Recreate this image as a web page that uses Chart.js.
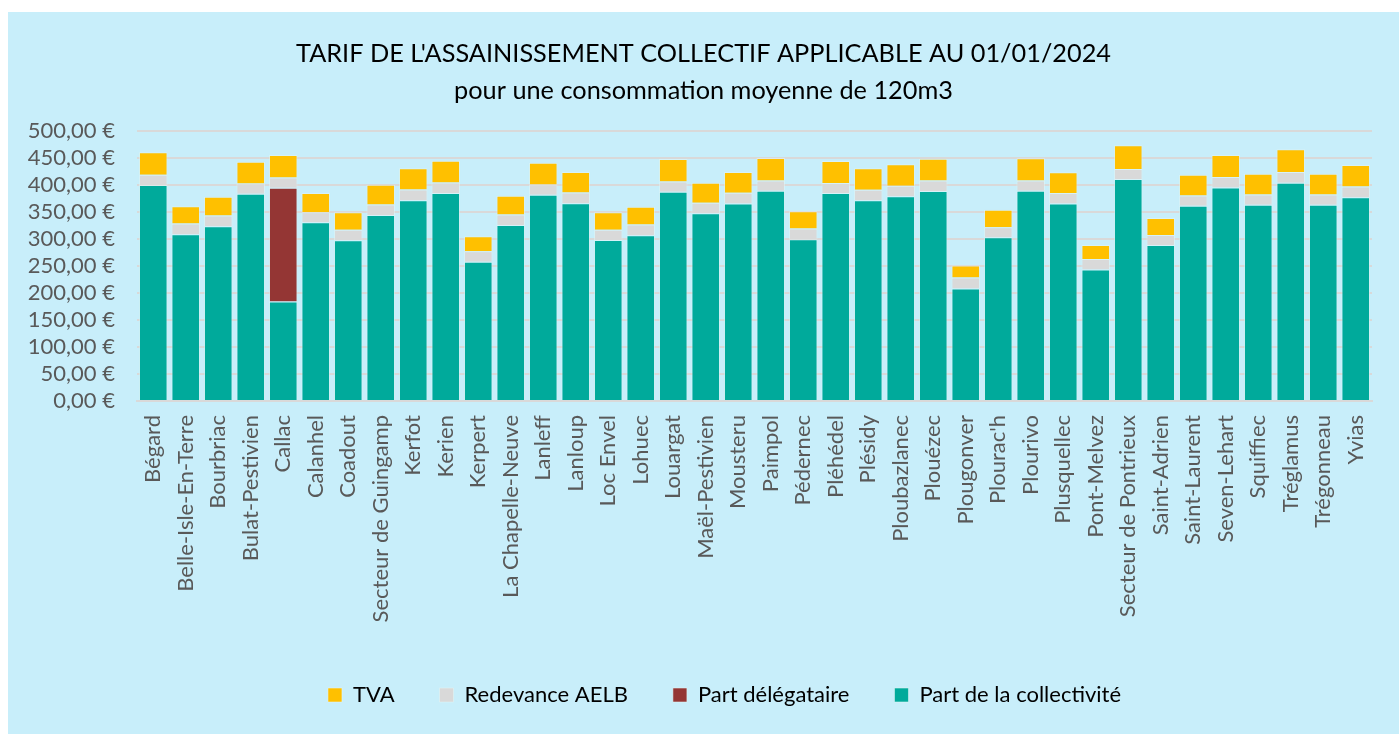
<!DOCTYPE html>
<html lang="fr">
<head>
<meta charset="utf-8">
<script src="https://cdn.jsdelivr.net/npm/chart.js@4"></script>
<style>
  body { margin: 0; background: #fff; }
  #wrap { position: absolute; left: 8px; top: 12px; width: 1391px; height: 722px; background: #c8eefa; }
</style>
</head>
<body>
<div id="wrap"><canvas id="chart"></canvas></div>
<script>
const communes = ["Bégard", "Belle-Isle-En-Terre", "Bourbriac", "Bulat-Pestivien", "Callac", "Calanhel", "Coadout",
  "Secteur de Guingamp", "Kerfot", "Kerien", "Kerpert", "La Chapelle-Neuve", "Lanleff", "Lanloup", "Loc Envel",
  "Lohuec", "Louargat", "Maël-Pestivien", "Mousteru", "Paimpol", "Pédernec", "Pléhédel", "Plésidy", "Ploubazlanec",
  "Plouézec", "Plougonver", "Plourac'h", "Plourivo", "Plusquellec", "Pont-Melvez", "Secteur de Pontrieux",
  "Saint-Adrien", "Saint-Laurent", "Seven-Lehart", "Squiffiec", "Tréglamus", "Trégonneau", "Yvias"];

const partCollectivite = [399.6, 308.5, 323.4, 383.5, 184.0, 330.9, 297.4, 344.5, 371.7, 384.8, 257.7, 325.9, 381.7,
  366.2, 298.0, 306.7, 387.2, 347.6, 365.6, 389.1, 299.3, 384.8, 371.7, 379.2, 388.5, 208.2, 303.0, 389.1, 365.6,
  243.5, 410.8, 288.7, 361.2, 395.3, 363.1, 404.0, 363.1, 377.3];

const partDelegataire = [null, null, null, null, 210.7, null, null, null, null, null, null, null, null,
  null, null, null, null, null, null, null, null, null, null, null, null, null, null, null, null,
  null, null, null, null, null, null, null, null, null];

const redevanceAELB = [19.2, 19.9, 19.8, 19.2, 19.2, 18.5, 19.8, 19.2, 19.9, 19.8, 19.3, 19.2, 19.2,
  19.8, 19.2, 19.8, 19.2, 19.2, 19.8, 19.2, 19.8, 18.5, 19.3, 19.2, 19.8, 20.4, 18.6, 19.2, 19.2,
  19.2, 18.6, 18.6, 19.2, 19.2, 19.2, 19.8, 19.2, 19.8];

const tva = [41.5, 32.2, 34.7, 40.3, 41.5, 35.4, 32.2, 36.5, 39.0, 40.3, 27.8, 34.7, 40.2,
  37.8, 32.2, 32.9, 41.6, 37.2, 38.4, 41.5, 32.2, 40.9, 39.6, 39.6, 40.3, 22.3, 32.2, 40.9, 38.4,
  26.0, 44.0, 31.6, 38.4, 40.9, 38.4, 42.1, 38.4, 39.7];

const yTicks = [0, 50, 100, 150, 200, 250, 300, 350, 400, 450, 500];

const font = "Lato, 'Open Sans', sans-serif";
const ctx = document.getElementById("chart");

function euro(v) {
  return v.toFixed(2).replace(".", ",") + " €";
}

function serie(label, data, color) {
  return {
    label: label,
    data: data,
    backgroundColor: color,
    borderColor: "rgba(225,245,245,0.55)",
    borderWidth: 1,
    barPercentage: 0.88,
    categoryPercentage: 1,
  };
}

// la légende est un peu décalée vers la droite
const decalageLegende = {
  id: "decalageLegende",
  afterLayout(chart) {
    chart.legend.left += 21;
    chart.legend.right += 21;
  },
};

new Chart(ctx, {
  type: "bar",
  data: {
    labels: communes,
    datasets: [
      serie("Part de la collectivité", partCollectivite, "#00aa9b"),
      serie("Part délégataire", partDelegataire, "#943634"),
      serie("Redevance AELB", redevanceAELB, "#d9d9d9"),
      serie("TVA", tva, "#ffc000"),
    ],
  },
  plugins: [decalageLegende],
  options: {
    responsive: true,
    maintainAspectRatio: false,
    animation: false,
    layout: { padding: { left: 0, right: 0, top: 0, bottom: 18 } },
    scales: {
      x: {
        stacked: true,
        afterFit: (scale) => { scale.height = 238; },
        grid: { display: false, drawTicks: false },
        border: { color: "#d9d9d9", width: 2 },
        ticks: {
          color: "#595959",
          font: { family: font, size: 22 },
          minRotation: 90,
          maxRotation: 90,
          autoSkip: false,
          padding: 14,
        },
      },
      y: {
        stacked: true,
        min: 0,
        max: 500,
        afterFit: (scale) => { scale.width = 129; },
        afterBuildTicks: (scale) => { scale.ticks = yTicks.map((v) => ({ value: v })); },
        grid: { color: "#d9d9d9", lineWidth: 2, drawTicks: false },
        border: { display: false },
        ticks: {
          color: "#595959",
          font: { family: font, size: 22 },
          padding: 22,
          autoSkip: false,
          callback: (v) => euro(v),
        },
      },
      // marge droite de la zone de tracé
      marge: {
        type: "linear",
        position: "right",
        afterFit: (scale) => { scale.width = 27; },
        grid: { display: false, drawTicks: false },
        border: { display: false },
        ticks: { display: false },
      },
    },
    plugins: {
      title: {
        display: true,
        text: ["TARIF DE L'ASSAINISSEMENT COLLECTIF APPLICABLE AU 01/01/2024", "pour une consommation moyenne de 120m3"],
        color: "#000",
        font: { family: font, size: 25.3, weight: "normal", lineHeight: 1.44 },
        padding: { top: 24, bottom: 22 },
      },
      legend: {
        position: "bottom",
        reverse: true,
        labels: {
          color: "#000",
          font: { family: font, size: 22 },
          boxWidth: 14,
          boxHeight: 14,
          padding: 45,
        },
      },
      tooltip: { enabled: false },
    },
  },
});
</script>
</body>
</html>
